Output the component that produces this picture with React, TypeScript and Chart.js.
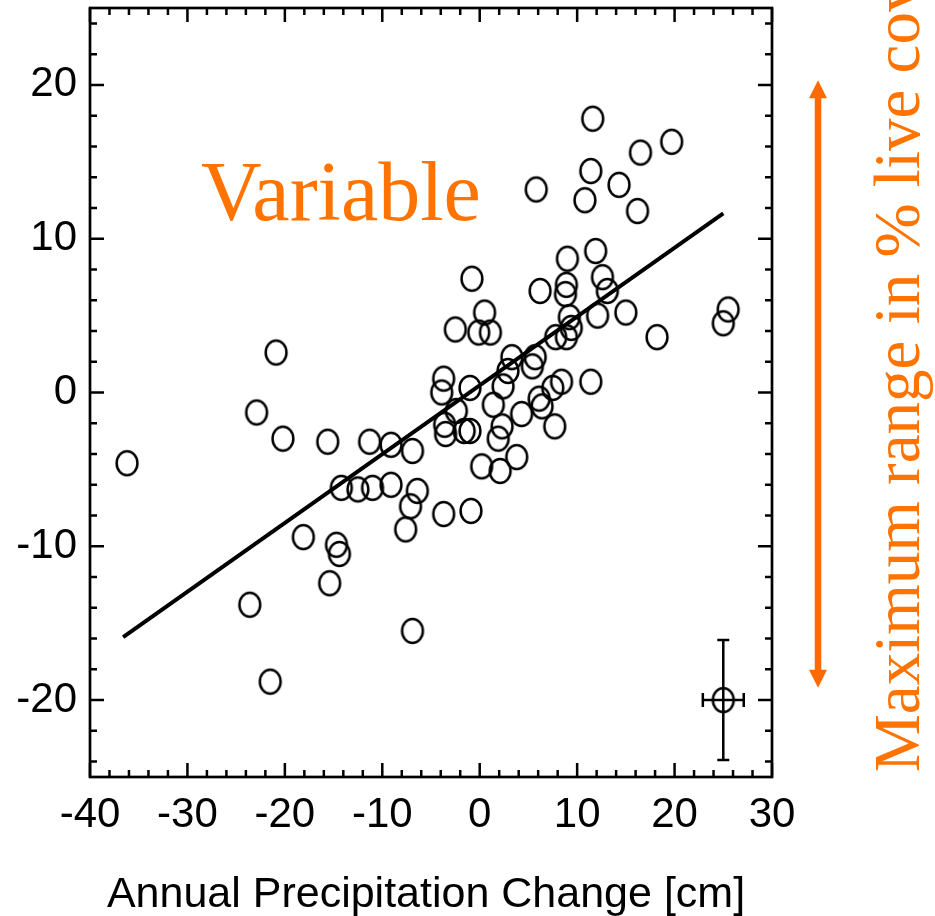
import React, { useEffect, useRef } from 'react';
import { Chart, registerables } from 'chart.js';

Chart.register(...registerables);

// Annual precipitation change [cm] (x) and max range in % live cover (y)
const precipChange = [
  11.6, 19.7, 16.5, 11.4, 5.8, 14.3, 10.8, 16.2,
  9.0, 11.9, -0.8, 12.6, 13.1, 6.2, 8.9, 8.8,
  0.5, 15.0, 12.1, 9.2, -2.5, -0.1, 1.1, 18.2,
  25.5, 25.0, 9.4, 8.9, 7.8, 3.3, 5.7, 5.4, 2.9,
  -3.7, -3.9, -1.0, 2.4, 8.4, 7.5, 11.4, 6.1,
  6.4, 1.4, 4.3, -2.4, -3.6, -3.5, -1.6, -1.0, 2.3, 1.9, 7.7, -6.9, 0.2, 3.8, 2.1,
  -36.2, -22.9, -20.2, -15.6, -11.3, -9.1, -20.9, -14.2, -12.5, -11.0, -9.1, -6.4,
  -7.1, -7.6, -3.7, -0.9, -18.1, -14.7, -14.4, -15.4, -23.6, -6.9, -21.5,
];
const coverRange = [
  17.8, 16.3, 15.6, 14.4, 13.2, 13.5, 12.5, 11.8,
  8.7, 9.2, 7.4, 7.5, 6.6, 6.6, 7.0, 6.4,
  5.2, 5.2, 5.0, 4.9, 4.1, 3.9, 3.9, 3.6,
  5.4, 4.5, 4.2, 3.6, 3.6, 2.3, 2.3, 1.7, 1.4,
  0.9, 0.0, 0.3, 0.4, 0.7, 0.3, 0.7, -0.4,
  -0.9, -0.8, -1.4, -1.2, -2.1, -2.7, -2.5, -2.5, -2.2, -3.0, -2.2, -3.8, -4.8, -4.2, -5.1,
  -4.6, -1.3, -3.0, -3.2, -3.2, -3.4, 2.6, -6.2, -6.3, -6.2, -6.0, -6.4,
  -7.4, -8.9, -7.9, -7.7, -9.4, -9.9, -10.5, -12.4, -13.8, -15.5, -18.8,
];

// regression line end points
const fitX = [-36.6, 25.0];
const fitY = [-15.9, 11.65];

// representative error point
const refX = [25];
const refY = [-20];
const refErrX = [2.1];
const refErrY = [3.9];

// "maximum range" arrow extent (in y units)
const arrowRange = [-19.2, 20.3];

const xTicks = [-40, -30, -20, -10, 0, 10, 20, 30];
const yTicks = [-20, -10, 0, 10, 20];
const xMin = -40, xMax = 30, yMin = -25, yMax = 25;

const xTitle = 'Annual Precipitation Change [cm]';
const annotationText = 'Variable';
const sideText = 'Maximum range in % live cover';

const ORANGE_TEXT = '#ff7300';
const ORANGE_ARROW = '#ff6a00';

function makeRing(): HTMLCanvasElement {
  const c = document.createElement('canvas');
  c.width = 30;
  c.height = 32;
  const g = c.getContext('2d')!;
  g.strokeStyle = '#000';
  g.lineWidth = 2.5;
  g.beginPath();
  g.ellipse(15, 16, 10.4, 12, 0, 0, Math.PI * 2);
  g.stroke();
  return c;
}

const framePlugin = {
  id: 'frameTicks',
  afterDatasetsDraw(chart: any) {
    const ctx = chart.ctx;
    const xs = chart.scales.x;
    const ys = chart.scales.y;
    // error bars for reference point
    ctx.save();
    ctx.strokeStyle = '#000';
    ctx.lineWidth = 2.5;
    for (let i = 0; i < refX.length; i++) {
      const cx = xs.getPixelForValue(refX[i]);
      const cy = ys.getPixelForValue(refY[i]);
      const x1 = xs.getPixelForValue(refX[i] - refErrX[i]);
      const x2 = xs.getPixelForValue(refX[i] + refErrX[i]);
      const y1 = ys.getPixelForValue(refY[i] + refErrY[i]);
      const y2 = ys.getPixelForValue(refY[i] - refErrY[i]);
      ctx.beginPath();
      ctx.moveTo(x1, cy); ctx.lineTo(x2, cy);
      ctx.moveTo(x1, cy - 7); ctx.lineTo(x1, cy + 7);
      ctx.moveTo(x2, cy - 7); ctx.lineTo(x2, cy + 7);
      ctx.moveTo(cx, y1); ctx.lineTo(cx, y2);
      ctx.moveTo(cx - 6, y1); ctx.lineTo(cx + 6, y1);
      ctx.moveTo(cx - 6, y2); ctx.lineTo(cx + 6, y2);
      ctx.stroke();
    }
    ctx.restore();
  },
  afterDraw(chart: any) {
    const ctx = chart.ctx;
    const { left, right, top, bottom } = chart.chartArea;
    const xs = chart.scales.x;
    const ys = chart.scales.y;
    ctx.save();
    ctx.strokeStyle = '#000';
    ctx.lineWidth = 2.5;
    ctx.lineCap = 'butt';
    ctx.beginPath();
    for (let v = xMin; v <= xMax; v += 2) {
      const px = xs.getPixelForValue(v);
      const len = v % 10 === 0 ? 14 : 7;
      ctx.moveTo(px, bottom); ctx.lineTo(px, bottom - len);
      ctx.moveTo(px, top); ctx.lineTo(px, top + len);
    }
    for (let v = -24; v <= 24; v += 2) {
      const py = ys.getPixelForValue(v);
      const len = v % 10 === 0 ? 14 : 7;
      ctx.moveTo(left, py); ctx.lineTo(left + len, py);
      ctx.moveTo(right, py); ctx.lineTo(right - len, py);
    }
    ctx.stroke();
    ctx.lineWidth = 2.7;
    ctx.strokeRect(left, top, right - left, bottom - top);

    // axis title
    ctx.fillStyle = '#000';
    ctx.font = '43px "Liberation Sans", Arial, sans-serif';
    ctx.textAlign = 'center';
    ctx.textBaseline = 'alphabetic';
    ctx.fillText(xTitle, (left + right) / 2 - 5, bottom + 130);

    // "Variable" annotation
    ctx.fillStyle = ORANGE_TEXT;
    ctx.font = '84px "Liberation Serif", "Times New Roman", serif';
    ctx.textAlign = 'left';
    ctx.fillText(annotationText, left + 111, top + 212);

    // double-headed arrow
    const ax = right + 46;
    const ayTop = ys.getPixelForValue(arrowRange[1]);
    const ayBot = ys.getPixelForValue(arrowRange[0]);
    ctx.strokeStyle = ORANGE_ARROW;
    ctx.fillStyle = ORANGE_ARROW;
    ctx.lineWidth = 6.5;
    ctx.beginPath();
    ctx.moveTo(ax, ayTop + 14);
    ctx.lineTo(ax, ayBot - 14);
    ctx.stroke();
    ctx.beginPath();
    ctx.moveTo(ax, ayTop);
    ctx.lineTo(ax - 9, ayTop + 18);
    ctx.lineTo(ax + 9, ayTop + 18);
    ctx.closePath();
    ctx.fill();
    ctx.beginPath();
    ctx.moveTo(ax, ayBot);
    ctx.lineTo(ax - 9, ayBot - 18);
    ctx.lineTo(ax + 9, ayBot - 18);
    ctx.closePath();
    ctx.fill();

    // vertical side text
    ctx.fillStyle = ORANGE_TEXT;
    ctx.font = '65px "Liberation Serif", "Times New Roman", serif';
    ctx.translate(right + 147, bottom - 5);
    ctx.rotate(-Math.PI / 2);
    ctx.textAlign = 'left';
    ctx.textBaseline = 'alphabetic';
    ctx.fillText(sideText, 0, 0);
    ctx.restore();
  },
};

export default function App() {
  const ref = useRef<HTMLCanvasElement | null>(null);
  useEffect(() => {
    document.body.style.margin = '0';
    document.body.style.overflow = 'hidden';
    const canvas = ref.current!;
    const ring = makeRing();
    const points = precipChange.map((x, i) => ({ x, y: coverRange[i] }));
    const refPoints = refX.map((x, i) => ({ x, y: refY[i] }));
    const fitPoints = fitX.map((x, i) => ({ x, y: fitY[i] }));
    const tickFont = { family: '"Liberation Sans", Arial, sans-serif', size: 42 };
    const chart = new Chart(canvas, {
      type: 'scatter',
      data: {
        datasets: [
          {
            type: 'line',
            data: fitPoints,
            borderColor: '#000',
            borderWidth: 4,
            pointRadius: 0,
            showLine: true,
            fill: false,
          } as any,
          {
            data: points,
            pointStyle: ring as any,
            pointRadius: 12,
            borderColor: '#000',
            backgroundColor: 'transparent',
          },
          {
            data: refPoints,
            pointStyle: ring as any,
            pointRadius: 12,
            borderColor: '#000',
            backgroundColor: 'transparent',
          },
        ],
      },
      options: {
        animation: false,
        responsive: false,
        maintainAspectRatio: false,
        layout: { autoPadding: false, padding: { top: 8, right: 163, bottom: 0, left: 0 } },
        plugins: { legend: { display: false }, tooltip: { enabled: false } },
        scales: {
          x: {
            type: 'linear',
            min: xMin,
            max: xMax,
            afterBuildTicks: (s: any) => { s.ticks = xTicks.map((v) => ({ value: v })); },
            afterFit: (s: any) => { s.height = 139; s.paddingLeft = 0; s.paddingRight = 0; },
            grid: { display: false, drawTicks: false },
            border: { display: false },
            ticks: { color: '#000', font: tickFont, padding: 13, maxRotation: 0, autoSkip: false },
          },
          y: {
            type: 'linear',
            min: yMin,
            max: yMax,
            afterBuildTicks: (s: any) => { s.ticks = yTicks.map((v) => ({ value: v })); },
            afterFit: (s: any) => { s.width = 90; s.paddingTop = 0; s.paddingBottom = 0; },
            grid: { display: false, drawTicks: false },
            border: { display: false },
            ticks: { color: '#000', font: tickFont, padding: 13, autoSkip: false },
          },
        },
      },
      plugins: [framePlugin],
    });
    return () => chart.destroy();
  }, []);
  return <canvas ref={ref} width={935} height={916} style={{ display: 'block' }} />;
}
